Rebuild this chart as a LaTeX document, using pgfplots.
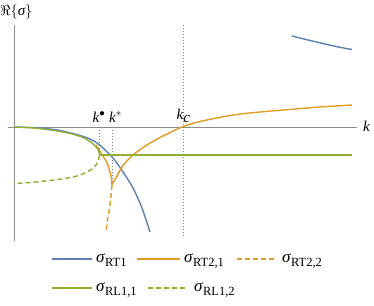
\documentclass[border=0pt]{standalone}
\usepackage{fontspec}
\setmainfont{Liberation Serif}
\usepackage{pgfplots}
\pgfplotsset{compat=1.18}
\definecolor{mblue}{HTML}{5E81B5}
\definecolor{morange}{HTML}{E19C24}
\definecolor{mgreen}{HTML}{8FB032}
\definecolor{maxis}{HTML}{8C8C8C}
\newcommand{\sig}[1]{{\fontsize{17}{19}\selectfont\textit{σ}}\raisebox{-4pt}{\fontsize{12.5}{14}\selectfont #1}}
\tikzset{lab/.style={font=\fontsize{15}{17}\selectfont, inner sep=0pt}}
\begin{document}
\begin{tikzpicture}
\begin{axis}[
  scale only axis, width=374pt, height=305pt,
  xmin=-14, xmax=360, ymin=-178, ymax=127,
  hide axis, clip=false,
  cv/.style={line width=1.4pt},
  dsh/.style={line width=1.4pt, dash pattern=on 5pt off 3pt},
]
% frame corners
\addplot[draw=none] coordinates {(-14,-178) (360,127)};
% axes
\addplot[maxis, line width=0.9pt] coordinates {(0,102) (0,-114)};
\addplot[maxis, line width=0.9pt] coordinates {(-6,0) (343,0)};
% dotted markers
\addplot[gray, dash pattern=on 1pt off 2pt, line width=0.8pt] coordinates {(85,0) (85,-28)};
\addplot[gray, dash pattern=on 1pt off 2pt, line width=0.8pt] coordinates {(98,0) (98,-58)};
\addplot[gray, dash pattern=on 1pt off 2pt, line width=0.8pt] coordinates {(169,102) (169,-111)};
% sigma RT1
\addplot[mblue, cv, smooth] coordinates {(0,0) (26,-1) (46,-3.5) (66,-8.5) (76,-12) (83,-16) (89,-21) (99,-31) (109,-45) (119,-61) (128,-81) (136,-105)};
\addplot[mblue, cv, smooth] coordinates {(278,91) (292,87.5) (306,84.2) (322,80.5) (338,77.5)};
% sigma RT2,1
\addplot[morange, cv, smooth] coordinates {(82,-18) (86,-24) (89,-29) (93,-36) (96,-45) (97.5,-52) (98,-58)};
\addplot[morange, cv, smooth] coordinates {(98,-58) (100,-54) (103,-49) (109,-38.5) (119,-28) (133,-18) (146,-10.5) (168,0) (186,5.5) (219,12) (246,15) (269,17) (306,20) (338,22)};
% sigma RT2,2
\addplot[morange, dsh, smooth] coordinates {(98,-58) (97,-69) (95.5,-81) (93.5,-93) (92,-105)};
% sigma RL1,1
\addplot[mgreen, cv, smooth] coordinates {(0,0) (20,-1) (40,-3.5) (56,-6.5) (69,-10.5) (78,-16) (83,-21) (85,-25) (85.5,-28)};
\addplot[mgreen, cv] coordinates {(85.5,-28) (338,-28)};
% sigma RL1,2
\addplot[mgreen, dsh, smooth] coordinates {(85.5,-28) (84.5,-33) (82,-38) (78,-42) (72,-45.5) (63,-49) (51,-51.5) (36,-53.5) (16,-55.5) (0,-56.5)};
% labels
\node[lab, anchor=base west] at (axis cs:78.5,4) {$\textit{k}^{\bullet}$};
\node[lab, anchor=base west] at (axis cs:95,4) {$\textit{k}^{*}$};
\node[lab, anchor=base west] at (axis cs:162.5,7) {$\textit{k}_{\textit{c}}$};
\node[lab, anchor=base west] at (axis cs:349,-5) {\textit{k}};
\node[lab, anchor=base west] at (axis cs:-14,111) {$\Re\{\textit{σ}\}$};
% legend
\addplot[mblue, cv] coordinates {(38,-132) (78,-132)};
\node[lab, anchor=base west] at (axis cs:82,-135.5) {\sig{RT1}};
\addplot[morange, cv] coordinates {(123,-132) (166,-132)};
\node[lab, anchor=base west] at (axis cs:170,-135.5) {\sig{RT2,1}};
\addplot[morange, dsh] coordinates {(223,-132) (261,-132)};
\node[lab, anchor=base west] at (axis cs:268,-135.5) {\sig{RT2,2}};
\addplot[mgreen, cv] coordinates {(38,-161) (78,-161)};
\node[lab, anchor=base west] at (axis cs:82,-164.5) {\sig{RL1,1}};
\addplot[mgreen, dsh] coordinates {(134,-161) (173,-161)};
\node[lab, anchor=base west] at (axis cs:180,-164.5) {\sig{RL1,2}};
\end{axis}
\end{tikzpicture}
\end{document}
